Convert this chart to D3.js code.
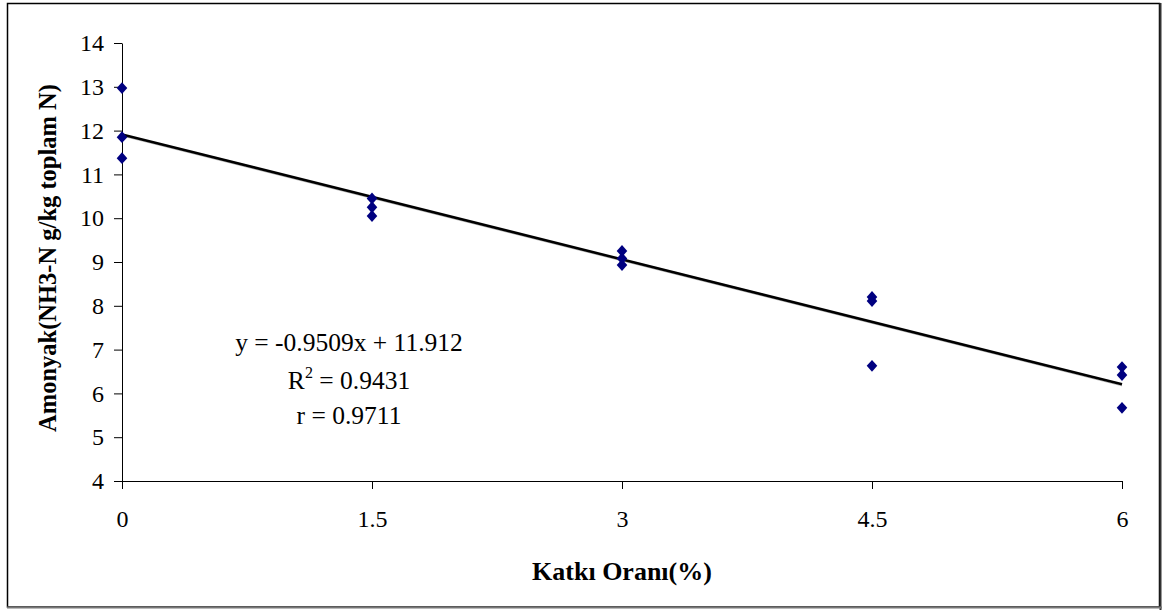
<!DOCTYPE html>
<html>
<head>
<meta charset="utf-8">
<script src="https://cdn.jsdelivr.net/npm/d3@7"></script>
<style>
  body { margin: 0; background: #fff; }
  svg { display: block; }
</style>
</head>
<body>
<div id="chart"></div>
<script>
// Data
var doses = [0, 0, 0, 1.5, 1.5, 1.5, 3, 3, 3, 4.5, 4.5, 4.5, 6, 6, 6];
var ammonia = [12.97, 11.85, 11.37, 10.45, 10.25, 10.05, 9.25, 9.08, 8.93, 8.20, 8.11, 6.63, 6.60, 6.42, 5.67];
var xTicks = [0, 1.5, 3, 4.5, 6];
var yTicks = [4, 5, 6, 7, 8, 9, 10, 11, 12, 13, 14];
var trend = {slope: -0.9509, intercept: 11.912};
var eqLines = ["y = -0.9509x + 11.912", "R2 = 0.9431", "r = 0.9711"];

var W = 1162, H = 610;
var margin = {top: 43, right: 36, bottom: 129, left: 122};
var serif = "'Liberation Serif', 'Times New Roman', serif";

var svg = d3.select("#chart").append("svg")
    .attr("width", W)
    .attr("height", H);

// outer frame
svg.append("rect")
    .attr("x", 7.5).attr("y", 3.5)
    .attr("width", 1152).attr("height", 603.5)
    .style("fill", "#fff")
    .style("stroke", "#000")
    .style("stroke-width", 1.5);
svg.append("line")
    .attr("x1", 1160.5).attr("x2", 1160.5).attr("y1", 3).attr("y2", 610)
    .style("stroke", "#333").style("stroke-width", 2);
svg.append("line")
    .attr("x1", 7).attr("x2", 1162).attr("y1", 607.5).attr("y2", 607.5)
    .style("stroke", "#777").style("stroke-width", 2);

var x = d3.scaleLinear()
    .domain([0, 6])
    .range([margin.left, W - margin.right - 4]);
var y = d3.scaleLinear()
    .domain([4, 14])
    .range([H - margin.bottom, margin.top]);

// axes
var xAxis = svg.append("g")
    .attr("transform", "translate(0," + y(4) + ")")
    .call(d3.axisBottom(x).tickValues(xTicks).tickSize(8).tickSizeOuter(0)
      .tickFormat(function(d) { return String(d); }));
var yAxis = svg.append("g")
    .attr("transform", "translate(" + x(0) + ",0)")
    .call(d3.axisLeft(y).tickValues(yTicks).tickSize(8).tickSizeOuter(0));

svg.selectAll(".domain").style("stroke", "#000").style("stroke-width", 1);
svg.selectAll(".tick line").style("stroke", "#000").style("stroke-width", 1);
svg.selectAll(".tick text")
    .style("font-family", serif)
    .style("font-size", "24px")
    .style("fill", "#000");
xAxis.selectAll(".tick text").attr("y", 28).attr("dy", "0.71em").attr("y", 29);
yAxis.selectAll(".tick text").attr("x", -18);

// trend line
var lineFn = d3.line()
    .x(function(d) { return x(d); })
    .y(function(d) { return y(trend.intercept + trend.slope * d); });
svg.append("path")
    .attr("d", lineFn([0, 6]))
    .attr("transform", "translate(0,1.5)")
    .style("fill", "none")
    .style("stroke", "#bbb")
    .style("stroke-width", 1);
svg.append("path")
    .attr("d", lineFn([0, 6]))
    .style("fill", "none")
    .style("stroke", "#000")
    .style("stroke-width", 2.6);

// points
var diamond = d3.symbol().type(d3.symbolSquare).size(56);
svg.selectAll(".pt")
    .data(doses)
    .enter()
    .append("path")
      .attr("class", "pt")
      .attr("d", diamond)
      .attr("transform", function(d, i) {
        return "translate(" + x(d) + "," + y(ammonia[i]) + ") scale(1,1.12) rotate(45)";
      })
      .style("fill", "#000080");

// equation box
var eq = svg.append("g")
    .style("font-family", serif)
    .style("font-size", "25.5px")
    .style("fill", "#000")
    .attr("text-anchor", "middle");
eq.append("text").attr("x", 349).attr("y", 351).text(eqLines[0]);
var r2 = eq.append("text").attr("x", 349).attr("y", 389);
r2.append("tspan").text("R");
r2.append("tspan").attr("dy", -11).style("font-size", "16px").text("2");
r2.append("tspan").attr("dy", 11).text(" = 0.9431");
eq.append("text").attr("x", 349).attr("y", 424).text(eqLines[2]);

// axis titles
svg.append("text")
    .attr("x", x(3))
    .attr("y", 580)
    .attr("text-anchor", "middle")
    .style("font-family", serif)
    .style("font-weight", "bold")
    .style("font-size", "26px")
    .text("Katkı Oranı(%)");

svg.append("text")
    .attr("transform", "translate(56," + 258 + ") rotate(-90)")
    .attr("text-anchor", "middle")
    .style("font-family", serif)
    .style("font-weight", "bold")
    .style("font-size", "24.5px")
    .text("Amonyak(NH3-N g/kg toplam N)");
</script>
</body>
</html>
